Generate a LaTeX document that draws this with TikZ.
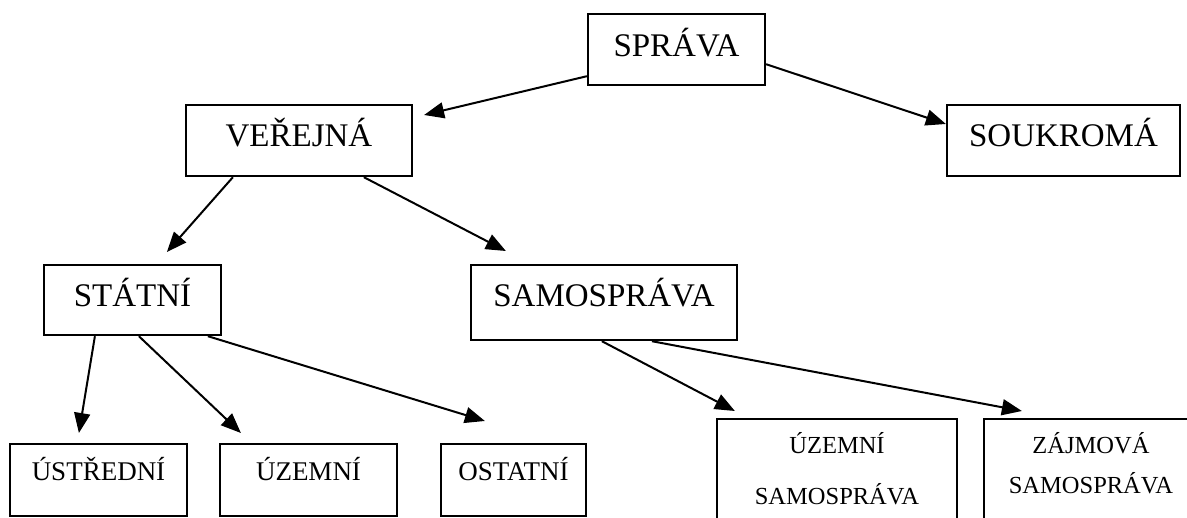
\documentclass[tikz,border=0pt]{standalone}
\usepackage{fontspec}
\setmainfont{Liberation Serif}
\usetikzlibrary{arrows.meta,calc}
\tikzset{
  box/.style={draw, line width=2.2pt, inner sep=0pt, anchor=north, align=center},
  big/.style={font=\fontsize{33}{40}\selectfont},
  mid/.style={font=\fontsize{27}{32}\selectfont},
  arr/.style={line width=2pt, -{Triangle[length=20pt,width=16pt]}},
}
\begin{document}
\begin{tikzpicture}[x=1pt,y=-1pt]
\clip (0,0) rectangle (1187,518);
\fill[white] (0,0) rectangle (1187,518);
% level 0
\node[box, big, minimum width=177pt, text height=42pt, text depth=29pt] (sprava) at (676.5,13) {SPRÁVA};
% level 1
\node[box, big, minimum width=226pt, text height=41pt, text depth=30pt] (verejna) at (299,104) {VEŘEJNÁ};
\node[box, big, minimum width=233pt, text height=41pt, text depth=30pt] (soukroma) at (1063.5,104) {SOUKROMÁ};
% level 2
\node[box, big, minimum width=177pt, text height=41pt, text depth=29pt] (statni) at (132.5,264) {STÁTNÍ};
\node[box, big, minimum width=266pt, text height=41pt, text depth=34pt] (samo) at (604,264) {SAMOSPRÁVA};
% level 3
\node[box, mid, minimum width=177pt, text height=36pt, text depth=36pt] (ustredni) at (98.5,443) {ÚSTŘEDNÍ};
\node[box, mid, minimum width=177pt, text height=36pt, text depth=36pt] (uzemni) at (308.5,443) {ÚZEMNÍ};
\node[box, mid, minimum width=145pt, text height=36pt, text depth=36pt] (ostatni) at (513.5,443) {OSTATNÍ};
\node[box, font=\fontsize{24.5}{51}\selectfont, minimum width=240pt, text height=85pt, text depth=57pt] (uzsam) at (837,418) {ÚZEMNÍ\\SAMOSPRÁVA};
\node[box, font=\fontsize{24.5}{40}\selectfont, minimum width=214pt, text height=74pt, text depth=68pt] (zajsam) at (1091,418) {ZÁJMOVÁ\\SAMOSPRÁVA};
% connectors
\draw[arr] ($(sprava.south west)+(0,-10)$) -- ($(verejna.north east)+(11,11)$);
\draw[arr] ($(sprava.south east)+(0,-22)$) -- ($(soukroma.north west)+(0,20)$);
\draw[arr] ($(verejna.south west)+(48,0)$) -- ($(statni.north west)+(124,-12)$);
\draw[arr] ($(verejna.south west)+(179,0)$) -- ($(samo.north west)+(36,-13)$);
\draw[arr] ($(statni.south west)+(52,0)$) -- ($(ustredni.north west)+(70,-10)$);
\draw[arr] ($(statni.south west)+(96,0)$) -- ($(uzemni.north west)+(22,-10)$);
\draw[arr] ($(statni.south west)+(165,0)$) -- ($(ostatni.north west)+(45,-22)$);
\draw[arr] ($(samo.south west)+(132,0)$) -- ($(uzsam.north west)+(19,-7)$);
\draw[arr] ($(samo.south west)+(182,0)$) -- ($(zajsam.north west)+(39,-7)$);
\end{tikzpicture}
\end{document}
